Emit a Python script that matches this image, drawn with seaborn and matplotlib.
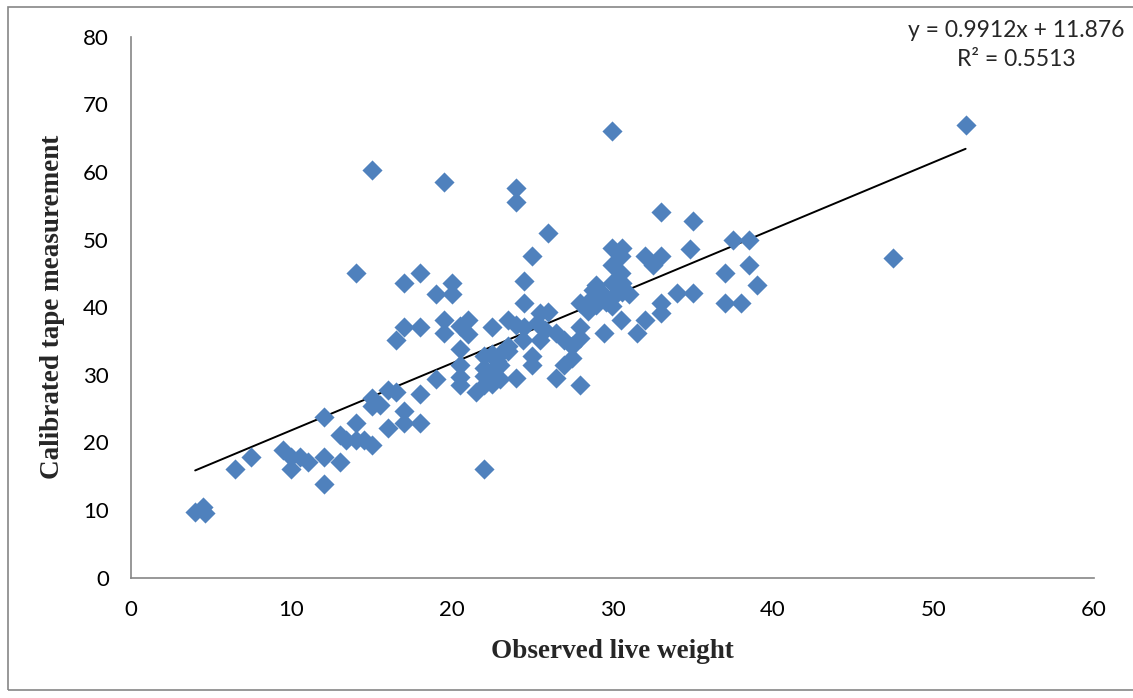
import numpy as np
import pandas as pd
import seaborn as sns
import matplotlib.pyplot as plt
from matplotlib.patches import Rectangle

live_weight = [
    4.0, 4.5, 4.6, 6.5, 7.5, 9.5, 10.0, 10.0, 10.5, 11.0,
    12.0, 12.0, 12.0, 13.0, 13.0, 13.4, 14.0, 14.0, 14.5, 15.0,
    15.0, 15.5, 15.0, 16.0, 16.5, 16.0, 17.0, 17.0, 18.0, 18.0,
    19.0, 14.0, 17.0, 18.0, 19.0, 20.0, 20.0, 17.0, 18.0, 16.5,
    19.5, 19.5, 20.5, 21.0, 21.0, 20.5, 20.5, 20.5, 20.5, 15.0,
    19.5, 24.0, 24.0, 26.0, 25.0, 22.0, 21.5, 22.0, 22.0, 22.0,
    22.0, 22.5, 22.5, 22.5, 23.0, 23.0, 23.0, 23.5, 23.5, 24.0,
    22.8, 22.5, 23.5, 24.0, 24.5, 25.5, 26.0, 24.5, 24.5, 24.4,
    25.0, 25.0, 25.5, 26.5, 27.0, 27.5, 28.0, 28.0, 27.5, 27.0,
    26.5, 28.0, 28.0, 28.5, 29.0, 29.5, 30.5, 31.5, 32.0, 33.0,
    33.0, 34.0, 35.0, 37.0, 38.0, 37.0, 38.5, 39.0, 37.5, 38.5,
    34.8, 32.0, 33.0, 32.5, 30.0, 30.6, 30.5, 30.0, 30.5, 29.0,
    28.8, 30.0, 30.6, 29.5, 30.0, 30.6, 29.0, 30.0, 29.6, 31.0,
    30.0, 52.0, 33.0, 35.0, 47.5, 25.3, 25.8, 28.5,
]
tape_measure = [
    9.7, 10.4, 9.5, 16.1, 17.9, 18.8, 16.0, 17.9, 17.9, 17.1,
    17.9, 13.9, 23.7, 17.1, 21.1, 20.3, 22.9, 20.3, 20.3, 19.6,
    26.5, 25.5, 25.3, 27.7, 27.5, 22.1, 24.6, 22.8, 22.8, 27.2,
    29.4, 45.0, 43.5, 45.0, 42.0, 43.5, 42.0, 37.1, 37.0, 35.1,
    38.1, 36.1, 37.2, 38.1, 36.0, 33.8, 31.4, 29.7, 28.5, 60.3,
    58.5, 57.6, 55.5, 51.0, 47.5, 16.0, 27.5, 28.5, 29.8, 31.0,
    32.7, 33.0, 28.6, 30.5, 31.5, 33.0, 29.3, 33.5, 34.2, 29.5,
    32.0, 37.0, 38.1, 37.4, 37.1, 39.1, 39.3, 43.9, 40.6, 35.1,
    32.7, 31.5, 35.1, 36.2, 35.1, 34.2, 35.5, 37.1, 32.5, 31.5,
    29.5, 28.5, 40.6, 39.5, 41.0, 36.1, 38.1, 36.1, 38.1, 40.6,
    39.2, 42.1, 42.1, 40.6, 40.6, 45.1, 46.2, 43.3, 50.0, 50.0,
    48.6, 47.5, 47.5, 46.2, 48.7, 48.7, 47.5, 46.2, 45.0, 43.3,
    42.5, 43.5, 43.5, 41.8, 41.3, 42.3, 40.3, 40.1, 40.8, 42.0,
    66.0, 67.0, 54.0, 52.8, 47.3, 37.6, 36.6, 40.8,
]

# linear trendline as printed on the chart
slope = 0.9912
intercept = 11.876
r_squared = 0.5513

df = pd.DataFrame({'weight': live_weight, 'tape': tape_measure})

sns.set_style('white')
plt.rcParams['font.family'] = ['Lato', 'DejaVu Sans']

fig = plt.figure(figsize=(11.33, 6.98), dpi=100)
ax = fig.add_axes([0.1156, 0.1726, 0.85, 0.7748])

sns.scatterplot(data=df, x='weight', y='tape', marker='D', s=105,
                color='#4F81BD', linewidth=0, ax=ax, zorder=3)

# trendline over the data range
xs = np.array([df.weight.min(), df.weight.max()])
ax.plot(xs, slope * xs + intercept, color='black', linewidth=1.4, zorder=2)

ax.set_xlim(0, 60)
ax.set_ylim(0, 80)
ax.set_xticks(range(0, 61, 10))
ax.set_yticks(range(0, 81, 10))

for side in ['top', 'right']:
    ax.spines[side].set_visible(False)
for side in ['left', 'bottom']:
    ax.spines[side].set_color('#868686')
    ax.spines[side].set_linewidth(1.2)

ax.tick_params(axis='both', direction='out', length=5, width=1.2,
               color='#868686', labelsize=16, labelcolor='black')
ax.tick_params(axis='y', pad=11)
ax.tick_params(axis='x', pad=11)

ax.set_xlabel('Observed live weight', fontsize=19.5, fontweight='bold',
              family='Liberation Serif', labelpad=14)
ax.set_ylabel('Calibrated tape measurement', fontsize=19.5, fontweight='bold',
              family='Liberation Serif', labelpad=13)

fig.text(1016 / 1133, 1 - 45 / 698,
         'y = {:.4f}x + {:.3f}\nR² = {:.4f}'.format(slope, intercept, r_squared),
         ha='center', va='center', multialignment='center', fontsize=16.5,
         linespacing=1.45)

# chart area border
fig.patches.append(Rectangle((8 / 1133, 1 - 690 / 698), 1.2, 683 / 698,
                             transform=fig.transFigure, fill=False,
                             edgecolor='#868686', linewidth=1.2))

fig.savefig('out.png', dpi=100)
